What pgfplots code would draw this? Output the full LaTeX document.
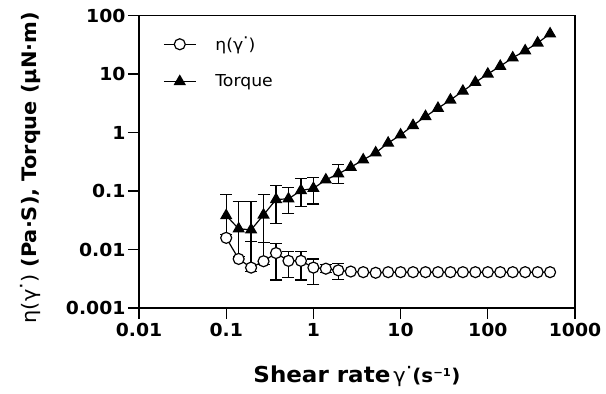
\documentclass[border=0pt]{standalone}
\usepackage{pgfplots}
\pgfplotsset{compat=1.18}
\usepackage{pgfplotstable}
\usepackage{fontspec}
\setmainfont{DejaVu Sans}[FakeStretch=1.05]
\newcommand{\gdot}{γ\raisebox{0.42em}{\textperiodcentered}}
\pgfplotstableread{
x y ep em
0.1 0.038 0.049 0.020
0.139 0.0226 0.0434 0.0151
0.193 0.0217 0.0443 0.0080
0.268 0.039 0.048 0.0257
0.373 0.0716 0.052 0.044
0.518 0.0735 0.040 0.032
0.720 0.102 0.060 0.048
1.0 0.111 0.061 0.051
1.931 0.197 0.083 0.061
}\torqueerr
\pgfplotstableread{
x y
0.1 0.038
0.139 0.0226
0.193 0.0217
0.268 0.039
0.373 0.0716
0.518 0.0735
0.720 0.102
1.0 0.111
1.389 0.155
1.931 0.197
2.683 0.255
3.728 0.341
5.179 0.45
7.197 0.66
10 0.91
13.89 1.32
19.31 1.88
26.83 2.6
37.28 3.6
51.79 5.1
71.97 7.2
100 10
138.9 13.6
193.1 18.9
268.3 25
372.8 34
517.9 48.7
}\torque
\pgfplotstableread{
x y ep em
0.193 0.0049 0.0088 0.0007
0.268 0.0063 0.0070 0.0008
0.373 0.0087 0.0038 0.0057
0.518 0.0064 0.0028 0.0031
0.720 0.0064 0.0028 0.0034
1.0 0.0049 0.0020 0.0024
1.389 0.0047 0.0008 0.0007
1.931 0.0044 0.0014 0.0013
}\viscerr
\pgfplotstableread{
x y
0.1 0.0158
0.139 0.0069
0.193 0.0049
0.268 0.0063
0.373 0.0087
0.518 0.0064
0.720 0.0064
1.0 0.0049
1.389 0.0047
1.931 0.0044
2.683 0.0042
3.728 0.0041
5.179 0.0040
7.197 0.0041
10 0.0041
13.89 0.0041
19.31 0.0041
26.83 0.0041
37.28 0.0041
51.79 0.0041
71.97 0.0041
100 0.0041
138.9 0.0041
193.1 0.0041
268.3 0.0041
372.8 0.0041
517.9 0.0041
}\visc
\begin{document}
\begin{tikzpicture}
\begin{axis}[
  at={(0,0)}, anchor=south west,
  scale only axis, width=436bp, height=292.5bp,
  xmode=log, ymode=log,
  xmin=0.01, xmax=1000, ymin=0.001, ymax=100,
  xtick={0.01,0.1,1,10,100,1000},
  xticklabels={0.01,0.1,1,10,100,1000},
  ytick={0.001,0.01,0.1,1,10,100},
  yticklabels={0.001,0.01,0.1,1,10,100},
  xminorticks=false, yminorticks=false,
  xtick pos=bottom, ytick pos=left,
  tick align=outside, major tick length=11bp,
  tick style={line width=1.2pt, black},
  axis line style={line width=1.3pt},
  ticklabel style={font=\fontsize{18}{20}\selectfont\bfseries},
  xticklabel style={yshift=-1bp},
  yticklabel style={xshift=1bp},
  xlabel={Shear rate\kern3bp{\mdseries\fontsize{20}{22}\selectfont\gdot}{\fontsize{19}{22}\selectfont(s\textsuperscript{\fontsize{11}{12}\selectfont −1})}},
  xlabel style={at={(axis description cs:0.5,0)}, anchor=base, yshift=-74.5bp, font=\fontsize{22}{24}\selectfont\bfseries},
  ylabel={{\mdseries η(\gdot)} (Pa·S), Torque (µN·m)},
  ylabel style={at={(axis description cs:-0.234,0.48)}, anchor=base, font=\fontsize{20}{24}\selectfont\bfseries},
  legend style={at={(axis description cs:0.055,0.935)}, anchor=north west, draw=none, fill=none,
    font=\fontsize{16.5}{19}\selectfont, row sep=19bp, inner sep=0pt,
    /tikz/every odd column/.append style={column sep=17bp}},
  legend cell align=left,
  legend image code/.code={\draw[mark repeat=2,mark phase=2] plot coordinates {(0bp,0bp)(16bp,0bp)(32bp,0bp)};},
  reverse legend,
  error bars/error bar style={line width=1.2pt, black},
  error bars/error mark options={rotate=90, mark size=6bp, line width=1.2pt, black},
]
\addplot[draw=none, mark=none, forget plot, error bars/.cd, y dir=both, y explicit]
  table[x=x, y=y, y error plus=ep, y error minus=em]{\torqueerr};
\addplot[draw=none, mark=none, forget plot, error bars/.cd, y dir=both, y explicit]
  table[x=x, y=y, y error plus=ep, y error minus=em]{\viscerr};
\addplot[black, line width=1.2pt, mark=triangle*, mark size=6bp, mark options={fill=black, solid}]
  table[x=x, y=y]{\torque};
\addlegendentry{Torque}
\addplot[black, line width=1.2pt, mark=*, mark size=5.5bp, mark options={fill=white, solid}]
  table[x=x, y=y]{\visc};
\addlegendentry{η(\gdot)}
\end{axis}
\pgfresetboundingbox
\path (-139bp,-86bp) rectangle (467bp,308bp);
\end{tikzpicture}
\end{document}
